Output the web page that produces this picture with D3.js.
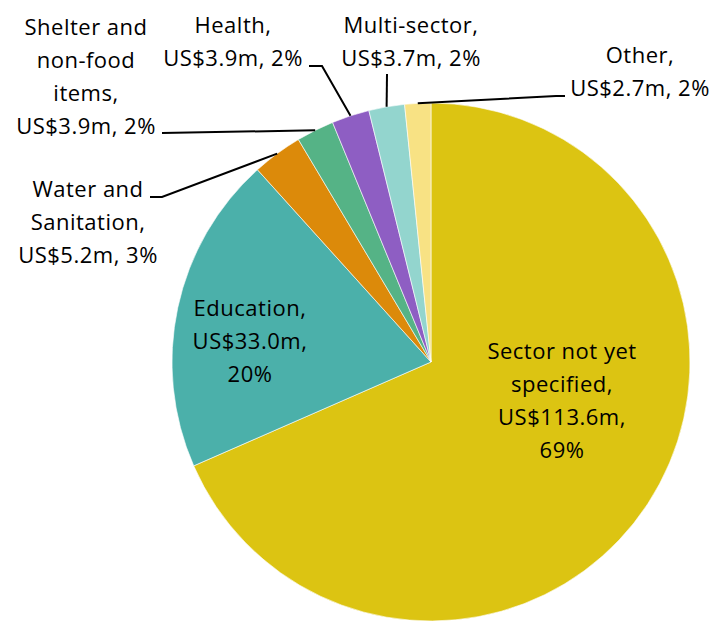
<!DOCTYPE html>
<meta charset="utf-8">
<style>
body { margin: 0; background: #fff; }
svg { display: block; }
.lbl { font-family: "Open Sans", sans-serif; font-size: 22px; fill: #000; letter-spacing: 0.5px; }
.leader { fill: none; stroke: #000; stroke-width: 2; }
</style>
<svg width="717" height="621"></svg>
<script src="https://d3js.org/d3.v7.min.js"></script>
<script>

// data
var sectors = ["Sector not yet specified", "Education", "Water and Sanitation",
               "Shelter and non-food items", "Health", "Multi-sector", "Other"];
var values = [113.6, 33.0, 5.2, 3.9, 3.9, 3.7, 2.7];
var percents = [69, 20, 3, 2, 2, 2, 2];
var colors = ["#dcc412", "#4bb0aa", "#dc8a0a", "#55b386", "#8e5ec3", "#93d5ce", "#f8e284"];

// how each label is broken into lines
var labelLines = [
  ["Sector not yet", "specified,", "{v},", "{p}"],
  ["Education,", "{v},", "{p}"],
  ["Water and", "Sanitation,", "{v}, {p}"],
  ["Shelter and", "non-food", "items,", "{v}, {p}"],
  ["Health,", "{v}, {p}"],
  ["Multi-sector,", "{v}, {p}"],
  ["Other,", "{v}, {p}"]
];

// label placement: centre x, first baseline, and leader elbow/end (null = inside)
var labelPos = [
  {x: 562, y: 359, leader: null},
  {x: 250, y: 316, leader: null},
  {x: 88, y: 197, leader: [[162, 197], [150, 197]]},
  {x: 86, y: 35, leader: [[162, 133]]},
  {x: 233, y: 33, leader: [[322, 66], [309, 66]]},
  {x: 411, y: 33, leader: [[387, 74]]},
  {x: 640, y: 63, leader: [[556, 96], [565, 96]]}
];

var svg = d3.select("svg");
var cx = 431, cy = 362, radius = 259, lineH = 33;

var fmt = d3.format(".1f");

var pie = d3.pie().sort(null).value(function(d) { return d; });
var arcs = pie(values);

var arc = d3.arc().innerRadius(0).outerRadius(radius);

var g = svg.append("g").attr("transform", "translate(" + cx + "," + cy + ")");

g.selectAll("path.slice")
  .data(arcs)
  .enter().append("path")
  .attr("class", "slice")
  .attr("d", arc)
  .attr("fill", function(d, i) { return colors[i]; })
  .attr("stroke", "#fff")
  .attr("stroke-width", 0.6);

// leader lines
arcs.forEach(function(d, i) {
  var pos = labelPos[i];
  if (!pos.leader) return;
  var a = (d.startAngle + d.endAngle) / 2;
  var pts = [[cx + radius * Math.sin(a), cy - radius * Math.cos(a)]].concat(pos.leader);
  svg.append("path")
    .attr("class", "leader")
    .attr("d", d3.line()(pts));
});

// labels
arcs.forEach(function(d, i) {
  var pos = labelPos[i];
  var t = svg.append("text")
    .attr("class", "lbl")
    .attr("text-anchor", "middle");
  labelLines[i].forEach(function(s, j) {
    s = s.replace("{v}", "US$" + fmt(values[i]) + "m").replace("{p}", percents[i] + "%");
    t.append("tspan")
      .attr("x", pos.x)
      .attr("y", pos.y + j * lineH)
      .text(s);
  });
});

</script>
